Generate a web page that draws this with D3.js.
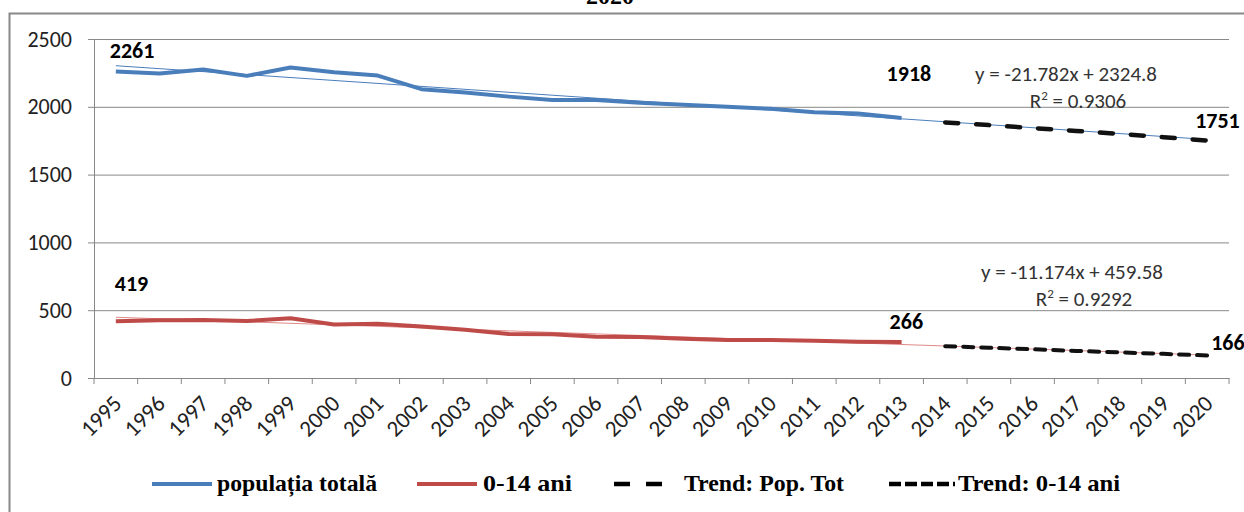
<!DOCTYPE html>
<html><head><meta charset="utf-8">
<script src="https://cdn.jsdelivr.net/npm/d3@7"></script>
<style>body{margin:0;background:#fff}svg{display:block}</style>
</head><body><svg id="c" width="1244" height="512"></svg>
<script>
const years = ["1995","1996","1997","1998","1999","2000","2001","2002","2003","2004","2005","2006","2007","2008","2009","2010","2011","2012","2013","2014","2015","2016","2017","2018","2019","2020"];
const popYears = years.slice(0, 19);
const trendYears = years.slice(19);
const popTotal = [2261,2245,2275,2228,2290,2255,2230,2130,2105,2075,2050,2050,2030,2015,2000,1985,1960,1950,1918];
const pop014 = [419,425,428,420,440,395,400,380,355,325,322,305,303,290,280,280,275,268,266];
const trendPop = [1885,1865,1843,1822,1800,1776,1751];
const trend014 = [235,223,212,200,189,178,166];
const fitPop = [2303, 1759];   // thin linear fit, 1995 -> 2020
const fit014 = [448, 169];
const yTicks = [0,500,1000,1500,2000,2500];
const eqPop = ["y = -21.782x + 2324.8", "0.9306"];
const eq014 = ["y = -11.174x + 459.58", "0.9292"];
const legendItems = ["populația totală","0-14 ani","Trend: Pop. Tot","Trend: 0-14 ani"];
const titleText = "2020";

const svg = d3.select("#c");
const L = 94, R = 1229, T = 39, B = 378;
const x = d3.scaleBand().domain(years).range([L, R]);
const cx = d => x(d) + x.bandwidth()/2;
const y = d3.scaleLinear().domain([0, 2500]).range([B, T]);
const blue = "#4a7ebb", red = "#be4b48";
const sans = "Carlito, 'Liberation Sans Narrow', 'Open Sans', sans-serif";
const serif = "'Liberation Serif', 'DejaVu Serif', serif";

// frame
svg.append("rect").attr("x", 9.5).attr("y", 13.5).attr("width", 1300).attr("height", 600)
  .attr("fill", "none").attr("stroke", "#888").attr("stroke-width", 2);
// title fragment (cut off at the top, as in the reference)
svg.append("text").attr("x", 610).attr("y", 4).attr("text-anchor", "middle")
  .attr("font-family", serif).attr("font-weight", "bold").attr("font-size", 24).text(titleText);

// gridlines + y axis
const yAxis = d3.axisLeft(y).tickValues(yTicks).tickSize(-(R - L)).tickPadding(22).tickFormat(d3.format("d"));
const gy = svg.append("g").attr("transform", `translate(${L},0)`).call(yAxis);
gy.select(".domain").attr("stroke", "#888");
gy.selectAll(".tick line").attr("stroke", "#888");
gy.selectAll(".tick text").attr("font-family", sans).attr("font-size", 22).attr("fill", "#222");
gy.selectAll(".tick").append("line").attr("x1", -6).attr("x2", 0).attr("stroke", "#888");

// x axis
const xAxis = d3.axisBottom(x).tickSize(0).tickFormat(d => d);
const gx = svg.append("g").attr("transform", `translate(0,${B})`).call(xAxis);
gx.select(".domain").attr("stroke", "#888");
gx.selectAll(".tick text").attr("font-family", sans).attr("font-size", 23).attr("fill", "#222")
  .attr("text-anchor", "end").attr("dy", 0)
  .attr("transform", "translate(5,25) rotate(-45)");
svg.append("g").selectAll("line").data(years.concat(["end"])).join("line")
  .attr("x1", (d, i) => L + i * x.step()).attr("x2", (d, i) => L + i * x.step())
  .attr("y1", B).attr("y2", B + 6).attr("stroke", "#888");

const line = d3.line().x(d => cx(d[0])).y(d => y(d[1]));

// thin fit lines
svg.append("path").datum([[years[0], fitPop[0]], [years[25], fitPop[1]]]).attr("d", line)
  .attr("fill", "none").attr("stroke", blue).attr("stroke-width", 1);
svg.append("path").datum([[years[0], fit014[0]], [years[25], fit014[1]]]).attr("d", line)
  .attr("fill", "none").attr("stroke", "#e08a88").attr("stroke-width", 1);

// main series
svg.append("path").datum(popYears.map((d, i) => [d, popTotal[i]])).attr("d", line)
  .attr("fill", "none").attr("stroke", blue).attr("stroke-width", 4).attr("stroke-linejoin", "round");
svg.append("path").datum(popYears.map((d, i) => [d, pop014[i]])).attr("d", line)
  .attr("fill", "none").attr("stroke", red).attr("stroke-width", 4).attr("stroke-linejoin", "round");

// trend series
svg.append("path").datum(trendYears.map((d, i) => [d, trendPop[i]])).attr("d", line)
  .attr("fill", "none").attr("stroke", "#111").attr("stroke-width", 4.5)
  .attr("stroke-dasharray", "13,18").attr("stroke-linecap", "round");
svg.append("path").datum(trendYears.map((d, i) => [d, trend014[i]])).attr("d", line)
  .attr("fill", "none").attr("stroke", "#111").attr("stroke-width", 4)
  .attr("stroke-dasharray", "10,8").attr("stroke-linecap", "round");

// data labels  [year, value, dx, baseline y offset]
const labels = [
  [years[0], popTotal[0], -6, -13],
  [years[18], popTotal[18], -15, -37],
  [years[25], trendPop[6], -12, -13],
  [years[0], pop014[0], -1, -30],
  [years[18], pop014[18], -12, -13],
  [years[25], trend014[6], 4, -5]
];
svg.append("g").selectAll("text").data(labels).join("text")
  .attr("x", d => cx(d[0]) + d[2]).attr("y", d => y(d[1]) + d[3])
  .attr("font-family", sans).attr("font-weight", "bold").attr("font-size", 22).attr("fill", "#000")
  .text(d => d[1]);

// equations
function eq(lines, xc, y0) {
  const g = svg.append("g").attr("font-family", sans).attr("font-size", 21).attr("fill", "#333").attr("text-anchor", "middle");
  g.append("text").attr("x", xc).attr("y", y0).text(lines[0]);
  const t = g.append("text").attr("x", xc + 12).attr("y", y0 + 27);
  t.append("tspan").text("R");
  t.append("tspan").attr("font-size", 13).attr("dy", -8).text("2");
  t.append("tspan").attr("dy", 8).text(" = " + lines[1]);
}
eq(eqPop, 1066, 81);
eq(eq014, 1072, 279);

// legend
const lg = svg.append("g").attr("font-family", serif).attr("font-weight", "bold").attr("font-size", 23).attr("fill", "#000");
const legendX = [[152, 212, 217, 160], [417, 477, 483, 89], [614, 662, 684, 160], [889, 955, 958, 162]];
const styles = [[blue, 4, null, "butt"], [red, 4, null, "butt"], ["#000", 4.5, "16,16", "butt"], ["#000", 4.5, "12,4", "butt"]];
legendItems.forEach((t, i) => {
  const [a, b, tx, w] = legendX[i];
  lg.append("line").attr("x1", a).attr("x2", b).attr("y1", 484).attr("y2", 484)
    .attr("stroke", styles[i][0]).attr("stroke-width", styles[i][1])
    .attr("stroke-dasharray", styles[i][2]).attr("stroke-linecap", styles[i][3]);
  lg.append("text").attr("x", tx).attr("y", 491).attr("textLength", w)
    .attr("lengthAdjust", "spacingAndGlyphs").text(t);
});
</script></body></html>
